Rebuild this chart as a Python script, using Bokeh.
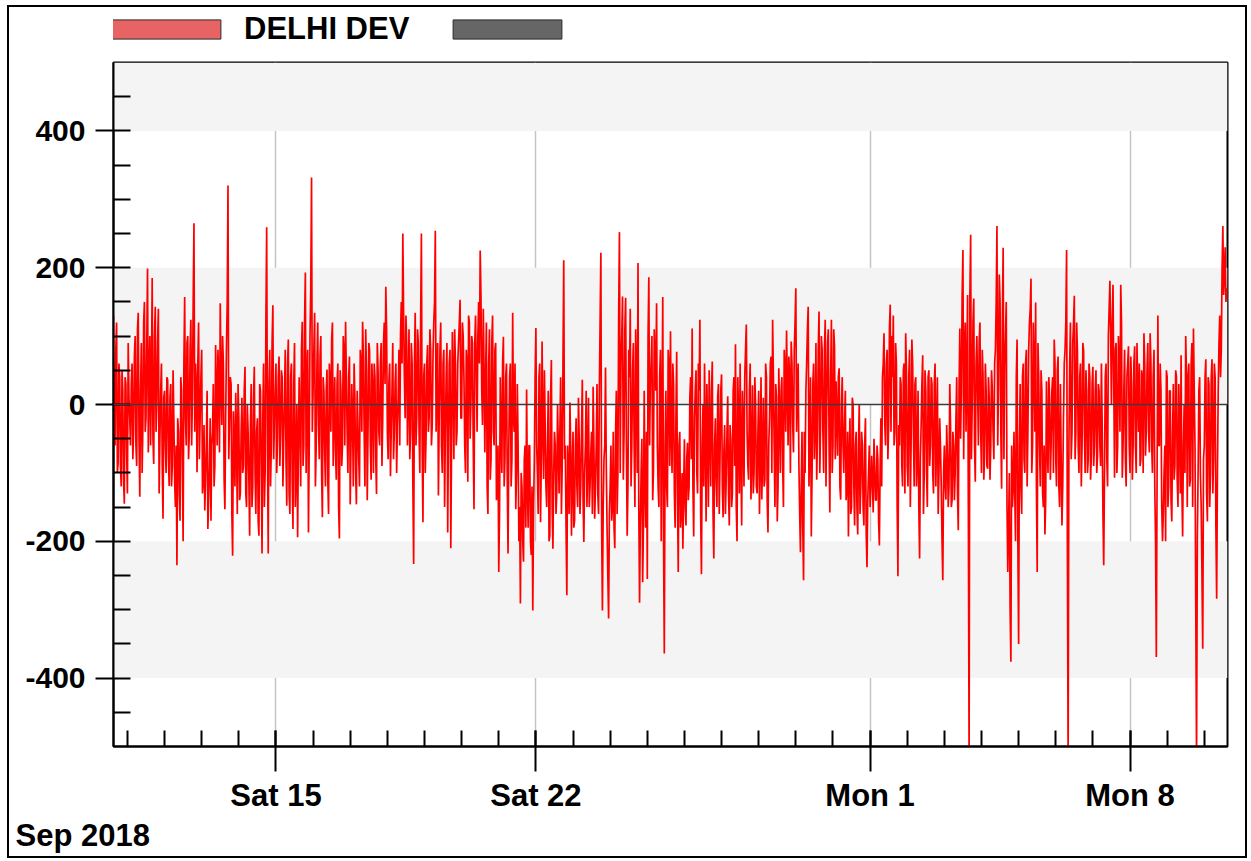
import pandas as pd
from bokeh.plotting import figure
from bokeh.layouts import column
from bokeh.models import (FixedTicker, Span, BoxAnnotation, Legend, LegendItem,
                          Title, ColumnDataSource, Range1d)
from bokeh.embed import file_html
from bokeh.resources import INLINE

# ---------------- data: DELHI DEV readings ----------------
start_time = "2018-09-10 15:00"

# readings on the hour
dev_sep10_15 = [
    130, -60, 120, -85, 40, -120, 20, -145, 30, -130, 10, -60, 60, -40, 100, -90, 134, -135, 90, -30, 150, -20, 199, 40,
    -60, 185, -87, 143, 0, 140, -50, 60, -167, 20, -100, 36, -119, 30, -90, -20, -150, -235, -40, -170, 20, -200, 157, -60,
    100, -40, 124, 10, 265, 60, -99, 120, -20, 80, -110, -155, -60, -182, -90, -170, -40, -120, 87, -60, 40, 148, -30, 60,
    -153, 80, 320, -20, 30, -221, -60, 17, -160, -20, -130, 10, -90, 55, -150, -40, -192, 30, -120, 55, -160, -20, -192, 20,
    -218, 60, -100, 259, -218, 80, -60, 145, -30, 60, -51, 70, -40, 40, -51, 80, -148, 95, -160, 60, -182, 90, -100, -194,
    40, -120, 121, -60, 193, 30, -187, 100, 332, 20, 134, -60, 120, -80, 100, -165, 20, -120, 51, -160, 30, 95, -90, 40,
]
dev_sep16_21 = [
    -110, 60, -196, 20, -60, 80, 121, -40, 40, -146, 30, -120, 10, -146, -30, -120, 60, 121, -40, 110, -140, 90, -60, 60,
    -100, 40, -131, 50, -60, 90, -20, 120, 172, -40, 32, -105, 20, -80, 30, -100, 10, -60, 150, 250, 40, 130, -60, 110,
    -40, 60, -233, 134, -20, 90, -100, 250, -172, 60, -50, 87, -20, 80, -30, 120, 254, 30, -133, 80, -60, 60, -150, 40,
    -187, 60, -210, 106, -80, 60, -40, 90, 153, -20, 100, -60, 80, -113, 120, 0, 90, -153, 130, -40, 150, 225, 20, 140,
    -70, 120, -160, 110, -80, 130, -60, 90, -120, -245, 40, -100, 99, -80, 60, -218, 40, -120, 134, -40, -153, 30, -200, -291,
    -120, -230, -60, 22, -180, -60, -220, -301, -80, 112, -100, 40, -172, 92, -109, -30, -150, 20, -192, 65, -211, -40, -160, 0,
]
dev_sep22_27 = [
    -130, 40, -90, 211, -60, -279, -100, 3, -192, -40, -170, -20, -150, -50, -120, 36, -201, -60, -150, 10, -120, -40, 26, -167,
    -60, -130, 20, 222, -301, -80, 54, -180, -313, -120, -170, -40, -210, 20, -100, 252, 60, 158, -40, 156, -192, 80, 140, -60,
    90, -150, 40, 207, -290, -100, -260, 20, -180, -255, 186, 30, 100, -95, 60, 148, -120, 40, -200, 157, -364, 20, -150, 60,
    107, -100, 30, -180, 77, -245, -40, -150, -211, -51, -177, -56, -120, 40, 111, -193, 20, -100, 60, 124, -248, 0, 60, -171,
    -40, 50, -120, 63, -225, -20, -150, 30, -80, 44, -165, -30, -110, 12, -177, -50, -130, 40, 88, -200, -20, 60, -177, -30,
    40, 117, -90, 20, -139, 28, -100, 0, -130, 20, -80, -139, 10, -110, 40, -187, -20, 70, 124, -60, 30, -171, 53, -100,
]
dev_sep28_oct03 = [
    40, -150, 53, 108, -60, 40, 92, -30, 80, 170, 20, -90, -216, -40, -257, -100, 60, 143, -50, -193, 30, -80, 90, -40,
    136, -30, 80, -100, 124, 0, 110, -158, 124, -60, 85, 34, -75, 53, -139, 40, -100, 20, -120, -193, -20, -150, 0, -177,
    -40, -190, 0, -120, -60, -177, -20, -238, -100, -150, -75, -158, -90, -140, -80, -206, -20, 40, 104, -60, 80, -30, 146, 100,
    130, -40, 60, -251, -60, 30, -120, 60, 104, -90, 40, -150, 95, -40, 30, -120, 20, -225, -30, 72, -100, 20, -150, 50,
    -60, 30, -130, 60, -40, -160, -20, -120, -257, -60, -139, -75, -120, -30, -139, -60, -100, 40, -184, 111, 20, 226, 80, -40,
    160, -520, 248, 0, 155, -113, 100, -60, 120, -100, 40, -75, 21, -94, 10, -60, 21, -80, 80, 261, 30, 150, -123, 229,
]
dev_oct04_09 = [
    60, 150, -245, -100, -376, -150, -40, -200, 95, -350, 30, -160, 60, -100, 80, -40, 120, 184, -60, 60, 149, -245, 40, -120,
    20, -150, -190, 34, -100, 10, -60, 40, 95, -80, 50, -120, 30, -177, -20, 80, 226, -520, 60, -80, 90, 159, -40, 79,
    -100, 60, -60, 79, -100, 20, -80, 40, -75, 55, -60, 50, -75, 20, -90, -30, -235, 40, -80, 100, 181, 0, 175, -107,
    90, -60, 60, 175, -107, 20, -80, 40, 85, -100, 30, -60, 85, -100, 20, 60, -80, 40, 104, -75, 50, -40, 104, -60,
    40, -120, -369, 130, -60, 20, -200, -100, -200, 40, -120, 20, -171, 30, -90, 40, -150, -40, 72, -193, 0, 100, -150, 60,
    -110, 90, 111, -60, -520, -100, 40, -150, -357, -60, 66, -171, 30, -100, 66, -80, 40, -284, 20, 130, 80, 261, 190, 150,
]

# readings on the half hour
half_sep10_15 = [
    -40, 80, -100, 60, -90, 50, -110, 40, -70, 90, -20, 30, -80, 70, -60, 110, -50, 20, -100, 120, -40, 90, -70, 100,
    30, -50, 100, -40, 90, -130, 20, -90, 10, -60, 40, -80, 10, -120, 50, -110, -60, -20, -130, 40, -90, 60, -20, 90,
    -80, 80, -60, 150, -40, 30, 60, -80, 40, -130, -30, -110, 20, -140, -20, -60, 30, -90, 20, 80, -70, 30, 100, -110,
    -20, 150, -80, 40, -160, -10, -120, -50, 30, -140, -40, -100, 20, -130, 0, -110, -30, -150, 10, -100, -40, -170, 30, -90,
    -20, -150, 120, -60, 30, -120, 90, -80, 20, -100, 40, -90, 50, -120, 10, -80, 60, -130, 40, -110, 30, -150, 0, -60,
    -40, 80, -90, 120, -100, 80, -60, 170, -40, 80, -120, 60, -30, 70, -100, 40, -70, 20, -110, 60, -40, 120, -20, -70,
]
half_sep16_21 = [
    30, -150, 50, -90, 100, -60, 40, -100, 70, -60, -20, 60, -100, 20, -80, 80, -40, 70, -120, 50, -40, 80, -110, 20,
    60, -80, 90, -40, 60, -90, 90, 30, 110, -80, 60, -40, 90, -40, 60, -30, 80, 100, 60, 130, -20, 90, 20, -80,
    90, -120, 60, -60, 110, -40, 120, -60, 40, -100, 60, -40, 110, -60, 70, 150, -40, 90, -20, 120, -100, 80, -40, 90,
    -40, 80, -60, 40, 110, -60, 60, 120, -20, 120, 40, -100, 60, 130, -50, 100, -60, 90, 50, 100, 60, 160, -30, 50,
    40, -120, 60, -110, 90, -40, 80, -140, -60, -160, -40, 60, -120, 40, -110, -60, 60, -80, -20, 60, -100, -60, -150, -100,
    -200, -80, -180, -120, -60, -200, -120, -150, 40, -60, -160, 60, -80, -40, 50, -120, -60, -200, 10, -150, -100, -60, -130, -60,
]
half_sep22_27 = [
    -40, -160, 60, -80, -180, -60, -160, -60, -100, -180, -60, -120, 10, -160, -40, -140, -100, 20, -80, -150, -70, -160, -60, -120,
    30, -160, 120, -180, -150, -60, -90, -250, -160, -60, -150, -180, -40, -160, 130, -100, 100, -110, 110, -60, -120, 40, -120, 50,
    -60, 110, -100, -150, -180, -50, -180, -120, -40, 100, -60, 60, -140, 110, 20, -60, -150, 80, -20, -200, -60, -120, 80, -90,
    -40, 60, -130, -20, -130, -60, -180, -100, -120, -150, -80, -140, 10, -80, -120, -20, 50, -130, 20, -160, -60, -120, -40, 30,
    -150, -40, 20, -160, -60, -110, 10, -160, 20, -120, -70, -160, -40, -130, -30, -150, 20, -90, -150, 40, -130, -70, 20, -120,
    80, -40, -110, 60, -80, -130, 40, -120, -40, -160, 40, -80, -120, 60, -140, -60, 60, -100, 40, -150, 10, -120, -20, 20,
]
half_sep28_oct03 = [
    -90, 80, -40, 30, 70, -100, 60, -70, 120, -40, 60, -160, -120, -180, -40, 20, 110, -120, 40, -100, 60, -30, -110, 80,
    -100, 100, -40, 80, -120, 90, -60, 40, -100, 110, -80, -20, 40, -120, 0, -60, -30, -140, -40, -80, -160, 10, -120, -60,
    -150, -60, -160, -40, -150, -60, -190, -140, -60, -120, -110, -50, -140, -60, -170, -90, -120, 60, -30, 60, -80, 110, -40, 40,
    -60, 90, -150, -30, 40, -90, 50, -130, 50, -120, 80, -60, 60, -120, 40, -80, -150, -80, 30, -160, 50, -100, 40, -90,
    40, -100, 30, -120, 40, -100, -60, -200, -100, -120, -30, -150, 30, -150, -40, -140, -20, -130, 20, -50, 160, -80, 120, 40,
    -150, 160, -80, 120, -60, 60, 20, 90, -40, 80, -110, 60, -90, 40, -110, 50, -40, 60, 150, -60, 190, -40, 120, -80,
]
half_oct04_09 = [
    100, -150, -180, -300, -60, -120, -130, 40, -200, -60, -120, 40, -80, 60, -120, 80, 140, -100, 120, -40, -120, 90, -60, 50,
    -130, -60, -140, -60, 40, -110, 20, -100, 60, -120, 70, -150, -80, -120, 60, 120, -200, -60, 120, -40, 120, -80, 120, -60,
    40, -120, 90, -40, 50, -100, 60, -110, 30, -90, 20, -100, 30, -60, 60, -160, -100, 60, -120, 140, 100, 120, 30, 80,
    -100, 100, -40, 120, -60, 80, -120, 60, -60, 70, -110, 60, -60, 90, -40, -90, 50, -100, 60, -40, 90, -70, 60, -100,
    80, -200, -100, -60, 60, -150, -160, -60, 50, -150, 20, -140, -40, -110, 50, -110, 30, -130, -120, -60, -100, 40, 40, -120,
    60, -150, 20, -300, -200, 20, -100, -250, -80, 40, -130, 40, -150, 40, -130, 60, -180, -100, 90, 40, 200, 160, 230, 170,
]

tick_dates = ["2018-09-15", "2018-09-22", "2018-10-01", "2018-10-08"]
tick_labels = ["Sat 15", "Sat 22", "Mon 1", "Mon 8"]
y_ticks = [-400, -200, 0, 200, 400]
y_tick_labels = ["-400", "-200", "0", "200", "400"]
series_names = ["DELHI DEV", " "]
x_start, x_end = "2018-09-10 15:00", "2018-10-10 15:00"

FONT = "Liberation Sans"

# ---------------- build ----------------
on_hour = dev_sep10_15 + dev_sep16_21 + dev_sep22_27 + dev_sep28_oct03 + dev_oct04_09
on_half = half_sep10_15 + half_sep16_21 + half_sep22_27 + half_sep28_oct03 + half_oct04_09
t_hour = pd.date_range(start_time, periods=len(on_hour), freq="h")
t_half = t_hour + pd.Timedelta(minutes=30)
times, values = [], []
for th, vh, tm, vm in zip(t_hour, on_hour, t_half, on_half):
    times += [th, tm]
    values += [vh, vm]
src = ColumnDataSource(data=dict(t=times, v=values))

def ms(s):
    return int(pd.Timestamp(s).value // 10**6)

W = 1236

# ----- legend strip -----
lg = figure(width=W, height=52, output_backend="svg", toolbar_location=None,
            x_axis_location=None, y_axis_location=None, min_border=0,
            x_range=Range1d(0, 1), y_range=Range1d(0, 1))
lg.grid.visible = False
lg.outline_line_color = None
lg.background_fill_color = "white"
lg.border_fill_color = "white"
nan_src = ColumnDataSource(data=dict(x=[float("nan")], y=[float("nan")]))
r_red = lg.rect("x", "y", width=1, height=1, source=nan_src, fill_color="#e86464", line_color="#2a2a2a")
r_gray = lg.rect("x", "y", width=1, height=1, source=nan_src, fill_color="#666666", line_color="#2a2a2a")
legend = Legend(items=[LegendItem(label=series_names[0], renderers=[r_red]),
                       LegendItem(label=series_names[1], renderers=[r_gray])],
                orientation="horizontal", location=(-15, 12),
                glyph_width=136, glyph_height=24, label_standoff=10, spacing=30,
                label_height=19, padding=0, margin=0, border_line_color=None, background_fill_alpha=0,
                label_text_font=FONT, label_text_font_style="bold",
                label_text_font_size="31px", label_text_color="black")
lg.add_layout(legend)

# ----- main chart -----
p = figure(x_axis_type="datetime", width=W, height=797,
           output_backend="svg", toolbar_location=None,
           min_border_left=104, min_border_right=18, min_border_top=3, min_border_bottom=110,
           x_range=Range1d(pd.Timestamp(x_start), pd.Timestamp(x_end)),
           y_range=Range1d(-500, 500))
p.background_fill_color = "white"
p.border_fill_color = "white"
p.outline_line_color = "black"
p.outline_line_width = 2

# alternating horizontal bands
for lo, hi in [(400, 500), (0, 200), (-400, -200)]:
    p.add_layout(BoxAnnotation(bottom=lo, top=hi, fill_color="#f4f4f4", fill_alpha=1.0,
                               line_color=None, level="underlay"))

p.add_layout(Span(location=0, dimension="width", line_color="#3c3c3c", line_width=1.5))

line_r = p.line("t", "v", source=src, line_color="#ff0000", line_width=1.7)

# x axis
x_major = [ms(d) for d in tick_dates]
x_minor = [ms(d) for d in pd.date_range("2018-09-11", "2018-10-10", freq="D")]
p.xaxis.ticker = FixedTicker(ticks=x_major, minor_ticks=x_minor)
p.xaxis.major_label_overrides = {t: l for t, l in zip(x_major, tick_labels)}
p.xaxis.major_tick_in = 16
p.xaxis.major_tick_out = 25
p.xaxis.minor_tick_in = 16
p.xaxis.minor_tick_out = 0
p.xaxis.axis_line_width = 2
p.xaxis.major_tick_line_width = 2
p.xaxis.minor_tick_line_width = 2
p.xaxis.major_label_standoff = 6
p.xaxis.major_label_text_font = FONT
p.xaxis.major_label_text_font_style = "bold"
p.xaxis.major_label_text_font_size = "31px"
p.xaxis.major_label_text_color = "black"
p.xgrid.grid_line_color = "#c4c4c4"
p.xgrid.grid_line_width = 1.5

# y axis
p.yaxis.ticker = FixedTicker(ticks=y_ticks,
                             minor_ticks=[-450, -350, -300, -250, -150, -100, -50, 50, 100, 150, 250, 300, 350, 450])
p.yaxis.major_label_overrides = {t: l for t, l in zip(y_ticks, y_tick_labels)}
p.yaxis.major_tick_in = 17
p.yaxis.major_tick_out = 18
p.yaxis.minor_tick_in = 17
p.yaxis.minor_tick_out = 0
p.yaxis.axis_line_width = 2
p.yaxis.major_tick_line_width = 2
p.yaxis.minor_tick_line_width = 2
p.yaxis.major_label_standoff = 10
p.yaxis.major_label_text_font = FONT
p.yaxis.major_label_text_font_style = "bold"
p.yaxis.major_label_text_font_size = "30px"
p.yaxis.major_label_text_color = "black"
p.ygrid.grid_line_color = None

p.add_layout(Title(text="Sep 2018", align="left", offset=-98, standoff=0,
                   text_font=FONT, text_font_style="bold",
                   text_font_size="31px", text_color="black"), "below")

layout = column(lg, p, spacing=0,
                styles={"border": "2px solid black", "margin-left": "7px", "margin-top": "5px"})

open("out.html", "w").write(file_html(layout, INLINE))
